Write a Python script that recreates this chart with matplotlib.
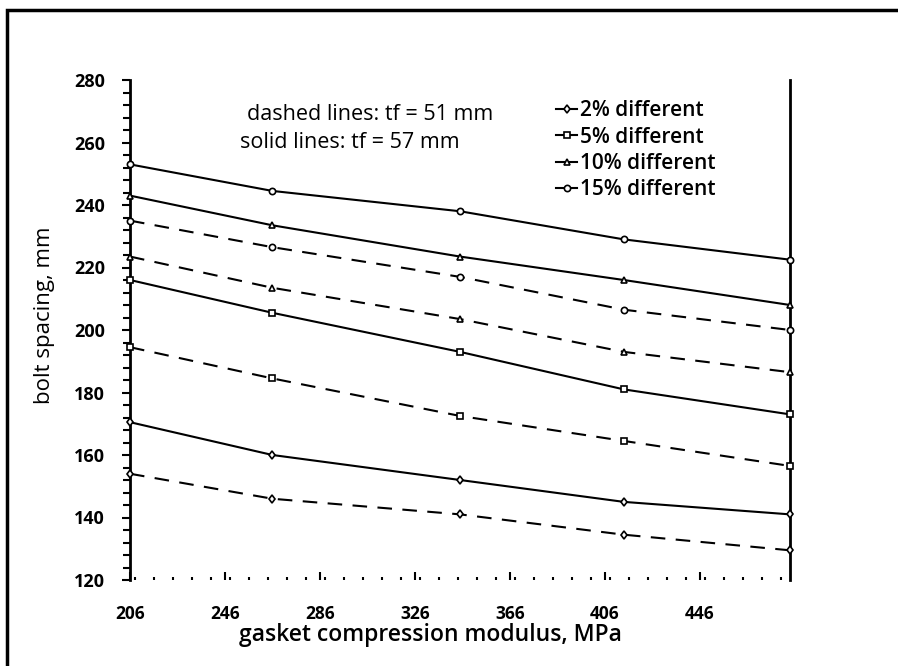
import numpy as np
import matplotlib.pyplot as plt
from matplotlib.patches import Rectangle
from matplotlib.lines import Line2D
from matplotlib.ticker import MultipleLocator

plt.rcParams['font.family'] = ['Open Sans', 'DejaVu Sans']

# gasket compression modulus, MPa
modulus = [206, 266, 345, 414, 484]

# bolt spacing, mm  (solid: tf = 57 mm, dashed: tf = 51 mm)
solid_2 = [170.5, 160.0, 152.0, 145.0, 141.0]
solid_5 = [216.0, 205.5, 193.0, 181.0, 173.0]
solid_10 = [243.0, 233.5, 223.5, 216.0, 208.0]
solid_15 = [253.0, 244.5, 238.0, 229.0, 222.5]

dashed_2 = [154.0, 146.0, 141.0, 134.5, 129.5]
dashed_5 = [194.5, 184.5, 172.5, 164.5, 156.5]
dashed_10 = [223.5, 213.5, 203.5, 193.0, 186.5]
dashed_15 = [235.0, 226.5, 217.0, 206.5, 200.0]

labels = ['2% different', '5% different', '10% different', '15% different']
markers = ['d', 's', '^', 'o']

fig = plt.figure(figsize=(8.98, 6.66), dpi=100)
ax = fig.add_axes([130/898, 1-580/666, 660/898, 500/666])

solids = [solid_2, solid_5, solid_10, solid_15]
dashes = [dashed_2, dashed_5, dashed_10, dashed_15]
for s, d, m in zip(solids, dashes, markers):
    ax.plot(modulus, s, color='black', lw=1.5, marker=m, ms=4.5,
            mfc='white', mec='black', mew=1.2, clip_on=False, zorder=3)
    ax.plot(modulus, d, color='black', lw=1.5, ls=(0, (7, 5)), marker=m, ms=4.5,
            mfc='white', mec='black', mew=1.2, clip_on=False, zorder=3)

ax.set_xlim(206, 484)
ax.set_ylim(120, 280)
ax.xaxis.set_major_locator(MultipleLocator(40))
ax.xaxis.set_minor_locator(MultipleLocator(8))
ax.yaxis.set_major_locator(MultipleLocator(20))
ax.yaxis.set_minor_locator(MultipleLocator(4))
ax.set_xticks([206, 246, 286, 326, 366, 406, 446])

ax.spines['top'].set_visible(False)
ax.spines['bottom'].set_visible(False)
ax.spines['left'].set_linewidth(2)
ax.spines['right'].set_linewidth(2)

ax.tick_params(axis='x', which='major', direction='in', length=6, width=1.5,
               pad=18, labelsize=12.5)
ax.tick_params(axis='x', which='minor', direction='in', length=2.5, width=1.5)
ax.tick_params(axis='y', which='major', direction='out', length=6, width=1.5,
               pad=12, labelsize=13)
ax.tick_params(axis='y', which='minor', direction='out', length=5, width=1.5)
for t in ax.get_xticklabels() + ax.get_yticklabels():
    t.set_fontweight('bold')

ax.set_xlabel('gasket compression modulus, MPa', fontsize=16.5, fontweight='semibold',
              va='center')
ax.xaxis.set_label_coords(0.455, -0.11)
ax.set_ylabel('bolt spacing, mm', fontsize=16, va='center')
ax.yaxis.set_label_coords(-0.13, 0.53)

ax.text(0.177, 0.93, 'dashed lines: tf = 51 mm', fontsize=15.5, va='center',
        transform=ax.transAxes)
ax.text(0.167, 0.876, 'solid lines: tf = 57 mm', fontsize=15.5, va='center',
        transform=ax.transAxes)

handles = [Line2D([], [], color='black', lw=1.5, marker=m, ms=4.5, mfc='white',
                  mec='black', mew=1.2) for m in markers]
leg = ax.legend(handles, labels, loc='upper left', bbox_to_anchor=(0.63, 0.98),
                frameon=False, handlelength=1.0, handletextpad=0.15,
                labelspacing=0.25, borderpad=0,
                prop={'size': 15, 'weight': 'semibold'})

fig.patches.append(Rectangle((7/898, -0.1), 1.2, 1.1 - 10/666,
                             transform=fig.transFigure, fill=False,
                             edgecolor='black', lw=2.5))

fig.savefig('out.png', dpi=100)
